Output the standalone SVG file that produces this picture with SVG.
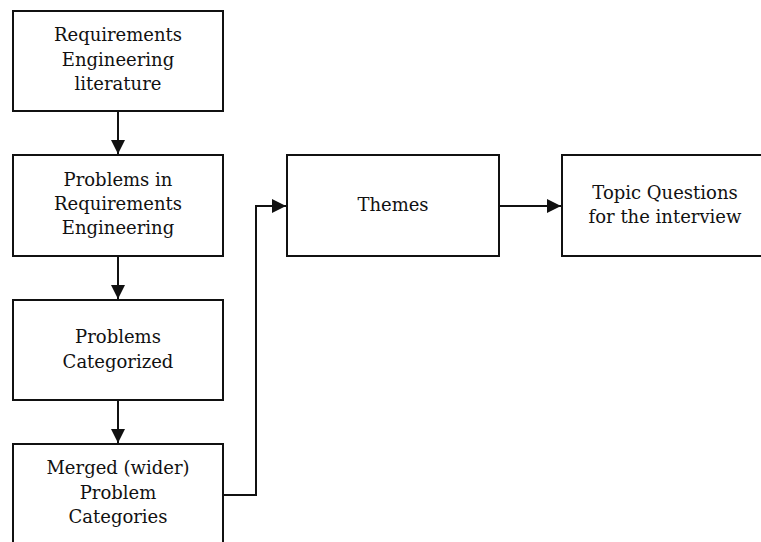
<svg xmlns="http://www.w3.org/2000/svg" width="761" height="542" viewBox="0 0 761 542">
  <style>
    .box { fill: #ffffff; stroke: #111111; stroke-width: 2; }
    .lbl { font-family: "DejaVu Serif", "Liberation Serif", serif; font-size: 18px; fill: #111111; text-anchor: middle; }
    .edge { fill: none; stroke: #111111; stroke-width: 2; }
  </style>
  <defs>
    <marker id="arrow" viewBox="0 0 14 14" refX="14" refY="7" markerWidth="14" markerHeight="14" markerUnits="userSpaceOnUse" orient="auto">
      <path d="M0,0 L14,7 L0,14 Z" fill="#111111"/>
    </marker>
  </defs>
  <rect width="761" height="542" fill="#ffffff"/>

  <g id="connectors">
    <line class="edge" x1="118" y1="111" x2="118" y2="154" marker-end="url(#arrow)"/>
    <line class="edge" x1="118" y1="256" x2="118" y2="299" marker-end="url(#arrow)"/>
    <line class="edge" x1="118" y1="400" x2="118" y2="443" marker-end="url(#arrow)"/>
    <polyline class="edge" points="223,495 256,495 256,206 286,206" stroke="#444444" marker-end="url(#arrow)"/>
    <line class="edge" x1="499" y1="206" x2="561" y2="206" marker-end="url(#arrow)"/>
  </g>

  <g id="node-literature">
    <rect class="box" x="13" y="11" width="210" height="100"/>
    <text class="lbl" x="118" y="41">Requirements</text>
    <text class="lbl" x="118" y="66">Engineering</text>
    <text class="lbl" x="118" y="90">literature</text>
  </g>

  <g id="node-problems">
    <rect class="box" x="13" y="155" width="210" height="101"/>
    <text class="lbl" x="118" y="186">Problems in</text>
    <text class="lbl" x="118" y="210">Requirements</text>
    <text class="lbl" x="118" y="234">Engineering</text>
  </g>

  <g id="node-categorized">
    <rect class="box" x="13" y="300" width="210" height="100"/>
    <text class="lbl" x="118" y="343">Problems</text>
    <text class="lbl" x="118" y="368">Categorized</text>
  </g>

  <g id="node-merged">
    <rect class="box" x="13" y="444" width="210" height="120"/>
    <text class="lbl" x="118" y="474">Merged (wider)</text>
    <text class="lbl" x="118" y="499">Problem</text>
    <text class="lbl" x="118" y="523">Categories</text>
  </g>

  <g id="node-themes">
    <rect class="box" x="287" y="155" width="212" height="101"/>
    <text class="lbl" x="393" y="211">Themes</text>
  </g>

  <g id="node-topics">
    <rect class="box" x="562" y="155" width="210" height="101"/>
    <text class="lbl" x="665" y="199">Topic Questions</text>
    <text class="lbl" x="665" y="223">for the interview</text>
  </g>
</svg>
